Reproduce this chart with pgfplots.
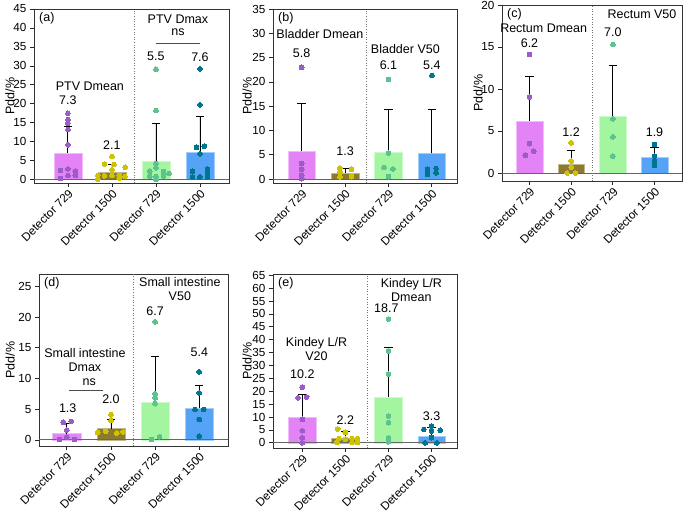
\documentclass[border=0pt]{standalone}
\usepackage{pgfplots}
\pgfplotsset{compat=1.18}
\usepackage{fontspec}
\setmainfont{Liberation Sans}

\definecolor{barA}{HTML}{E383F5}
\definecolor{barB}{HTML}{8E7A2F}
\definecolor{barC}{HTML}{A3F5A0}
\definecolor{barD}{HTML}{55A3F7}
\definecolor{dotA}{HTML}{9A5CC6}
\definecolor{dotB}{HTML}{CDC300}
\definecolor{dotC}{HTML}{5CC38F}
\definecolor{dotD}{HTML}{00758F}

\newcommand{\ann}{\fontsize{12.5}{14}\selectfont}

\pgfplotsset{
  panel/.style={
    scale only axis, anchor=south west, clip=false,
    xtick={0,1,2,3},
    xticklabels={Detector 729, Detector 1500, Detector 729, Detector 1500},
    x tick label style={rotate=45, anchor=north east, inner sep=1.2pt},
    ytick distance=5,
    ylabel={Pdd/\%},
    ylabel style={font=\fontsize{12.5}{14}\selectfont, at={(axis description cs:-#1,0.5)}, anchor=center},
    tick label style={font=\fontsize{11.7}{14}\selectfont},
    /pgf/number format/assume math mode=true,
    tick align=outside, xtick pos=bottom, ytick pos=left,
    major tick length=4pt,
    tick style={black!85, line width=0.7pt},
    axis line style={black!80, line width=0.8pt},
  },
  bar/.style={ybar, bar width=0.64, bar shift=0pt, fill=#1, draw=#1!55!white, line width=0.5pt,
    error bars/y dir=plus, error bars/y explicit,
    error bars/error bar style={black, line width=0.8pt},
    error bars/error mark options={black, rotate=90, mark size=4.2pt, line width=0.8pt}},
  dots/.style={only marks, mark=*, mark size=2.4pt, color=#1, mark options={solid, draw=#1, fill=#1, line width=0pt}},
}

\newcommand{\zeroline}{\draw[black!60, line width=0.9pt] ({rel axis cs:0,0}|-{axis cs:0,0}) -- ({rel axis cs:1,0}|-{axis cs:0,0});}
\newcommand{\sepline}{\draw[black!55, dotted, line width=0.6pt] ({axis cs:1.5,0}|-{rel axis cs:0,0}) -- ({axis cs:1.5,0}|-{rel axis cs:0,1});}
\newcommand{\tag}[1]{\node[anchor=north west, inner sep=0pt, font=\ann] at ([shift={(5pt,-3pt)}]rel axis cs:0,1) {#1};}

\begin{document}
\begin{tikzpicture}
\path[use as bounding box] (0,0) rectangle (685pt,513pt);

% (a)
\begin{axis}[panel=0.123, at={(34pt,330pt)}, width=195pt, height=174pt,
  xmin=-0.77, xmax=3.66, ymin=-0.9, ymax=45]
\addplot[bar=barA] coordinates {(0,7.0) +- (0,7.0)};
\addplot[bar=barB] coordinates {(1,1.9) +- (0,2.0)};
\addplot[bar=barC] coordinates {(2,4.8) +- (0,10.1)};
\addplot[bar=barD] coordinates {(3,7.3) +- (0,9.4)};
\zeroline \sepline
\addplot[dots=dotA] coordinates {(0,17.5) (0,15.8) (0,14.9) (0,13.2) (0,9.2) (-0.17,2.4) (0,2.8) (0.17,2.2) (0,1.1) (0.17,1.1) (-0.17,0.3)};
\addplot[dots=dotB] coordinates {(1,6.1) (0.83,4.1) (1.05,4.0) (1.3,3.3) (1.0,2.6) (0.68,1.1) (0.83,1.0) (1.0,1.1) (1.17,1.2) (1.3,0.8) (1.17,0.4) (0.68,0.1)};
\addplot[dots=dotC] coordinates {(2,29.1) (2,18.2) (2,4.2) (2,3.1) (1.86,2.2) (2.17,2.1) (2.3,1.6) (1.86,0.9) (2,0.8) (2.17,0.9) (2,0.1)};
\addplot[dots=dotD] coordinates {(3,29.2) (3,19.7) (2.92,8.5) (3.1,8.8) (3,6.8) (2.83,2.2) (3.17,2.8) (3.17,1.8) (2.83,0.7) (3,0.7) (3.17,0.7)};
\tag{(a)}
\node[font=\ann] at (axis cs:0.5,24.7) {PTV Dmean};
\node[font=\ann] at (axis cs:0,21) {7.3};
\node[font=\ann] at (axis cs:1,9.2) {2.1};
\node[font=\ann] at (axis cs:2.5,42.4) {PTV Dmax};
\node[font=\ann] at (axis cs:2.5,38.8) {ns};
\draw[black!70, line width=0.7pt] (axis cs:2.0,36.0) -- (axis cs:3.0,36.0);
\node[font=\ann] at (axis cs:2,32.4) {5.5};
\node[font=\ann] at (axis cs:3,32.4) {7.6};
\end{axis}

% (b)
\begin{axis}[panel=0.141, at={(273pt,330pt)}, width=184pt, height=174pt,
  xmin=-0.66, xmax=3.58, ymin=-0.8, ymax=35]
\addplot[bar=barA] coordinates {(0,5.76) +- (0,9.8)};
\addplot[bar=barB] coordinates {(1,1.17) +- (0,1.0)};
\addplot[bar=barC] coordinates {(2,5.6) +- (0,8.7)};
\addplot[bar=barD] coordinates {(3,5.3) +- (0,9.0)};
\zeroline \sepline
\addplot[dots=dotA] coordinates {(0,23.0) (0,3.2) (0,2.0) (0,0.8) (0,0.1)};
\addplot[dots=dotB] coordinates {(0.88,2.3) (1.15,2.0) (0.88,1.5) (0.88,0.5) (1.15,0.5)};
\addplot[dots=dotC] coordinates {(2,20.5) (2,5.4) (1.9,2.4) (2.1,2.1) (2,0.5)};
\addplot[dots=dotD] coordinates {(3,21.3) (2.9,2.0) (3.1,2.2) (2.9,1.0) (3.1,1.3)};
\tag{(b)}
\node[font=\ann] at (axis cs:0.42,29.8) {Bladder Dmean};
\node[font=\ann] at (axis cs:0,26.0) {5.8};
\node[font=\ann] at (axis cs:1,5.8) {1.3};
\node[font=\ann] at (axis cs:2.39,26.7) {Bladder V50};
\node[font=\ann] at (axis cs:2,23.5) {6.1};
\node[font=\ann] at (axis cs:3,23.5) {5.4};
\end{axis}

% (c)
\begin{axis}[panel=0.133, at={(502pt,332pt)}, width=180pt, height=176pt,
  xmin=-0.66, xmax=3.66, ymin=-0.95, ymax=20]
\addplot[bar=barA] coordinates {(0,6.17) +- (0,5.3)};
\addplot[bar=barB] coordinates {(1,1.04) +- (0,1.66)};
\addplot[bar=barC] coordinates {(2,6.7) +- (0,6.15)};
\addplot[bar=barD] coordinates {(3,1.83) +- (0,1.17)};
\zeroline \sepline
\addplot[dots=dotA] coordinates {(0,14.1) (0,9.07) (0,3.5) (0.1,2.6) (-0.1,2.1)};
\addplot[dots=dotB] coordinates {(1,3.6) (1,1.43) (1,0.7) (0.9,0.0) (1.1,0.0)};
\addplot[dots=dotC] coordinates {(2,15.3) (2,6.45) (2,4.3) (2,2.0)};
\addplot[dots=dotD] coordinates {(3,3.4) (3,2.0) (3,1.43) (3,0.9)};
\tag{(c)}
\node[font=\ann] at (axis cs:0.34,17.2) {Rectum Dmean};
\node[font=\ann] at (axis cs:0,15.5) {6.2};
\node[font=\ann] at (axis cs:1,4.9) {1.2};
\node[font=\ann] at (axis cs:2.7,18.9) {Rectum V50};
\node[font=\ann] at (axis cs:2,16.8) {7.0};
\node[font=\ann] at (axis cs:3,4.9) {1.9};
\end{axis}

% (d)
\begin{axis}[panel=0.153, at={(39pt,67pt)}, width=189pt, height=172pt,
  xmin=-0.63, xmax=3.65, ymin=-1, ymax=27]
\addplot[bar=barA] coordinates {(0,1.03) +- (0,1.62)};
\addplot[bar=barB] coordinates {(1,1.84) +- (0,1.46)};
\addplot[bar=barC] coordinates {(2,6.19) +- (0,7.4)};
\addplot[bar=barD] coordinates {(3,5.2) +- (0,3.7)};
\zeroline \sepline
\addplot[dots=dotA] coordinates {(-0.08,2.85) (0.1,3.0) (0,1.6) (-0.17,0.05) (0,0.4) (0.17,0.05)};
\addplot[dots=dotB] coordinates {(1,4.1) (1,3.2) (0.7,1.2) (0.88,1.4) (1.13,1.1) (1.28,1.3)};
\addplot[dots=dotC] coordinates {(2,19.2) (2,7.5) (2,6.84) (2,5.9) (1.92,0.05) (2.1,0.5)};
\addplot[dots=dotD] coordinates {(3,11.07) (3,7.65) (2.9,4.93) (3.1,4.93) (3,3.3) (3,0.6)};
\tag{(d)}
\node[font=\ann, align=center] at (axis cs:0.41,12.95) {Small intestine\\Dmax};
\node[font=\ann] at (axis cs:0.51,9.4) {ns};
\draw[black!70, line width=0.7pt] (axis cs:0.04,8.0) -- (axis cs:0.83,8.0);
\node[font=\ann] at (axis cs:0.02,5.2) {1.3};
\node[font=\ann] at (axis cs:1,6.7) {2.0};
\node[font=\ann, align=center] at (axis cs:2.56,24.55) {Small intestine\\V50};
\node[font=\ann] at (axis cs:2,20.9) {6.7};
\node[font=\ann] at (axis cs:3,14.2) {5.4};
\end{axis}

% (e)
\begin{axis}[panel=0.141, at={(273pt,65pt)}, width=184pt, height=174pt,
  xmin=-0.68, xmax=3.59, ymin=-2, ymax=65.5]
\addplot[bar=barA] coordinates {(0,9.9) +- (0,8.9)};
\addplot[bar=barB] coordinates {(1,1.7) +- (0,2.6)};
\addplot[bar=barC] coordinates {(2,17.7) +- (0,19.3)};
\addplot[bar=barD] coordinates {(3,2.7) +- (0,3.3)};
\zeroline \sepline
\addplot[dots=dotA] coordinates {(0,21.6) (-0.1,17.5) (0.1,17.8) (0,9.1) (0,4.7) (0,1.95) (0,0)};
\addplot[dots=dotB] coordinates {(0.82,5.4) (1.0,4.1) (0.85,1.7) (1.15,1.7) (1.28,1.6) (1.0,1.4) (0.8,0.2) (1.15,0.1) (1.28,0.2)};
\addplot[dots=dotC] coordinates {(2,48.0) (2,35.7) (2,26.7) (2,10.4) (2,7.8) (2,1.95) (2,0.4)};
\addplot[dots=dotD] coordinates {(2.82,5.2) (3.0,6.5) (3.0,4.6) (3.2,4.9) (3.0,2.0) (2.85,0) (3.12,0)};
\tag{(e)}
\node[font=\ann, align=center] at (axis cs:0.33,36.3) {Kindey L/R\\V20};
\node[font=\ann] at (axis cs:0,26.6) {10.2};
\node[font=\ann] at (axis cs:1,8.8) {2.2};
\node[font=\ann, align=center] at (axis cs:2.53,59.3) {Kindey L/R\\Dmean};
\node[font=\ann] at (axis cs:1.95,52.3) {18.7};
\node[font=\ann] at (axis cs:3,10.5) {3.3};
\end{axis}
\end{tikzpicture}
\end{document}
